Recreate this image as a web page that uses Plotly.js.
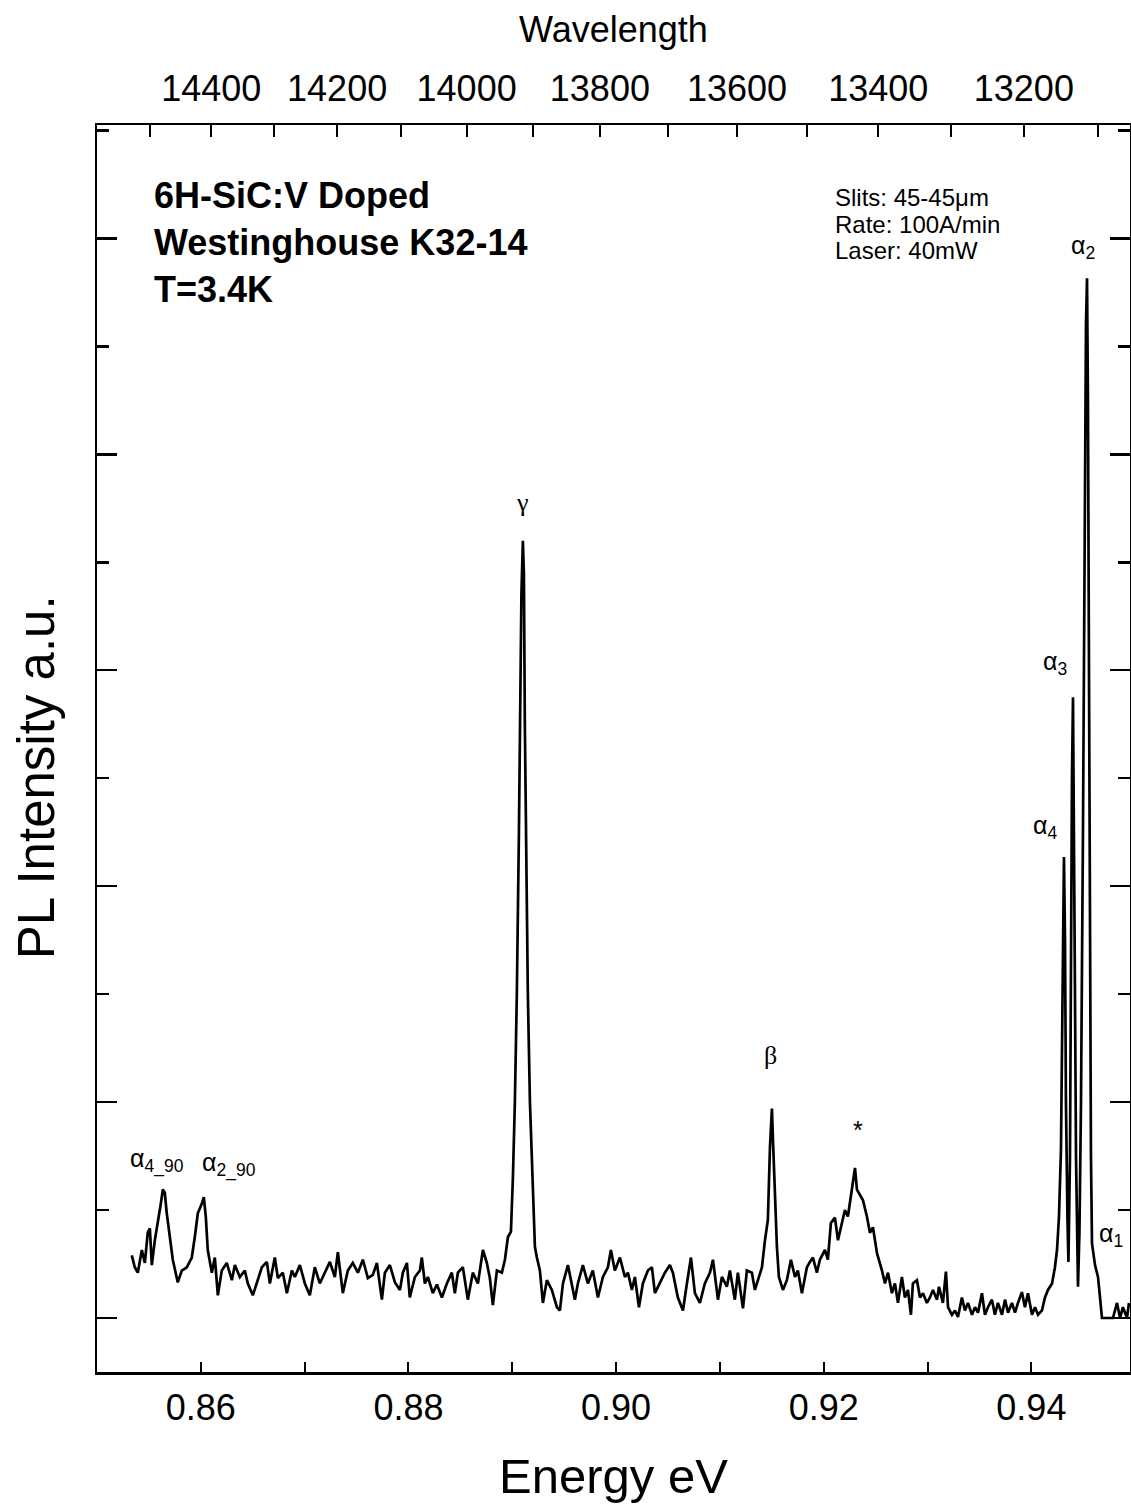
<!DOCTYPE html>
<html>
<head>
<meta charset="utf-8">
<script src="https://cdn.plot.ly/plotly-3.0.1.min.js"></script>
<style>html,body{margin:0;padding:0;background:#fff;}</style>
</head>
<body>
<div id="chart" style="width:1131px;height:1504px;"></div>
<script>
// Photon energy (eV)
const energy = [
0.85335,0.85364,0.85393,0.85432,0.85461,0.85489,0.85509,0.85528,0.85557,0.85586,
0.85615,0.85634,0.85653,0.85672,0.85701,0.85730,0.85778,0.85817,0.85865,0.85913,
0.85942,0.85971,0.86010,0.86029,0.86048,0.86067,0.86106,0.86135,0.86164,0.86202,
0.86250,0.86299,0.86328,0.86376,0.86424,0.86453,0.86501,0.86540,0.86588,0.86636,
0.86665,0.86713,0.86742,0.86790,0.86829,0.86877,0.86906,0.86954,0.87002,0.87050,
0.87098,0.87146,0.87195,0.87243,0.87291,0.87320,0.87368,0.87416,0.87464,0.87513,
0.87561,0.87609,0.87657,0.87696,0.87744,0.87773,0.87821,0.87870,0.87918,0.87946,
0.87985,0.88013,0.88062,0.88110,0.88129,0.88158,0.88187,0.88235,0.88274,0.88322,
0.88370,0.88418,0.88447,0.88476,0.88524,0.88572,0.88620,0.88669,0.88717,0.88755,
0.88784,0.88813,0.88852,0.88900,0.88929,0.88958,0.88987,0.89006,0.89025,0.89044,
0.89064,0.89078,0.89088,0.89102,0.89112,0.89121,0.89136,0.89150,0.89170,0.89189,
0.89208,0.89218,0.89237,0.89266,0.89295,0.89333,0.89381,0.89430,0.89459,0.89488,
0.89536,0.89574,0.89603,0.89632,0.89680,0.89728,0.89776,0.89825,0.89873,0.89921,
0.89950,0.89988,0.90037,0.90085,0.90114,0.90152,0.90181,0.90220,0.90258,0.90306,
0.90345,0.90374,0.90422,0.90470,0.90518,0.90547,0.90595,0.90644,0.90682,0.90721,
0.90759,0.90807,0.90855,0.90904,0.90933,0.90981,0.91019,0.91067,0.91096,0.91144,
0.91173,0.91222,0.91260,0.91308,0.91337,0.91366,0.91405,0.91434,0.91462,0.91482,
0.91501,0.91511,0.91530,0.91549,0.91568,0.91607,0.91645,0.91684,0.91723,0.91751,
0.91790,0.91838,0.91867,0.91896,0.91934,0.91963,0.92012,0.92040,0.92069,0.92108,
0.92137,0.92175,0.92204,0.92233,0.92272,0.92301,0.92320,0.92349,0.92378,0.92416,
0.92445,0.92474,0.92513,0.92561,0.92590,0.92619,0.92657,0.92686,0.92715,0.92753,
0.92782,0.92811,0.92840,0.92859,0.92898,0.92927,0.92956,0.92994,0.93023,0.93052,
0.93091,0.93110,0.93148,0.93177,0.93197,0.93235,0.93264,0.93293,0.93331,0.93360,
0.93389,0.93428,0.93457,0.93486,0.93524,0.93553,0.93582,0.93620,0.93649,0.93678,
0.93717,0.93746,0.93775,0.93813,0.93842,0.93871,0.93909,0.93938,0.93967,0.94006,
0.94035,0.94064,0.94102,0.94131,0.94160,0.94199,0.94227,0.94247,0.94266,0.94285,
0.94295,0.94304,0.94314,0.94324,0.94333,0.94348,0.94357,0.94372,0.94381,0.94391,
0.94401,0.94410,0.94420,0.94430,0.94439,0.94449,0.94463,0.94478,0.94497,0.94516,
0.94526,0.94536,0.94545,0.94555,0.94565,0.94574,0.94584,0.94613,0.94642,0.94661,
0.94680,0.94786,0.94825,0.94854,0.94882,0.94921,0.94940
];
// PL intensity (a.u.)
const intensity = [
0.58,0.47,0.42,0.63,0.51,0.79,0.83,0.49,0.72,0.88,
1.06,1.19,1.16,0.97,0.75,0.54,0.33,0.44,0.47,0.56,
0.75,0.97,1.06,1.12,0.94,0.63,0.42,0.56,0.21,0.44,
0.51,0.35,0.49,0.38,0.44,0.32,0.21,0.33,0.47,0.52,
0.32,0.56,0.37,0.42,0.23,0.44,0.38,0.49,0.32,0.21,
0.47,0.32,0.42,0.52,0.38,0.61,0.23,0.44,0.51,0.42,
0.54,0.37,0.40,0.51,0.17,0.42,0.49,0.33,0.26,0.42,
0.51,0.19,0.38,0.44,0.56,0.32,0.38,0.23,0.31,0.19,
0.32,0.42,0.23,0.42,0.47,0.17,0.42,0.32,0.63,0.51,
0.37,0.12,0.44,0.42,0.54,0.75,0.80,1.30,2.00,3.00,
4.50,5.80,6.70,7.20,6.90,5.50,4.00,3.00,2.00,1.40,
0.90,0.66,0.56,0.44,0.14,0.35,0.26,0.10,0.07,0.32,
0.49,0.32,0.17,0.32,0.49,0.32,0.44,0.19,0.38,0.47,
0.63,0.44,0.56,0.38,0.42,0.26,0.38,0.10,0.32,0.44,
0.47,0.23,0.32,0.42,0.49,0.42,0.19,0.07,0.32,0.56,
0.23,0.14,0.32,0.42,0.54,0.17,0.38,0.29,0.44,0.17,
0.42,0.09,0.44,0.42,0.26,0.35,0.47,0.72,0.91,1.58,
1.94,1.65,1.12,0.66,0.38,0.26,0.35,0.54,0.38,0.44,
0.23,0.47,0.52,0.56,0.42,0.54,0.63,0.54,0.88,0.93,
0.72,0.88,1.00,0.94,1.21,1.39,1.19,1.14,1.09,0.94,
0.79,0.84,0.60,0.44,0.32,0.42,0.23,0.32,0.14,0.38,
0.19,0.26,0.03,0.32,0.35,0.19,0.23,0.14,0.19,0.26,
0.17,0.29,0.14,0.43,0.10,0.03,0.07,0.01,0.19,0.07,
0.14,0.03,0.10,0.05,0.23,0.03,0.10,0.17,0.03,0.14,
0.03,0.17,0.05,0.14,0.05,0.14,0.24,0.10,0.23,0.03,
0.10,0.03,0.07,0.19,0.26,0.32,0.47,0.63,0.94,1.56,
2.80,3.80,4.27,3.50,2.00,0.90,0.52,1.50,3.50,5.00,
5.75,4.80,3.00,1.50,0.60,0.29,0.80,2.00,4.50,7.50,
9.20,9.63,8.50,6.00,3.00,1.50,0.69,0.49,0.38,0.21,
0.00,0.00,0.14,0.00,0.10,0.00,0.14
];
// Top axis: wavelength (Angstrom) — labelled ticks and unlabelled minor ticks
const wavelengthMajor = [14400,14200,14000,13800,13600,13400,13200];
const wavelengthMinor = [14500,14300,14100,13900,13700,13500,13300,13100];
// Peak labels
const peakNames = ['\u03b3','\u03b2','*','\u03b1<sub>2</sub>','\u03b1<sub>3</sub>','\u03b1<sub>4</sub>','\u03b1<sub>1</sub>','\u03b1<sub>4_90</sub>','\u03b1<sub>2_90</sub>'];
const peakLabelE = [0.89101,0.91489,0.92327,0.94494,0.94224,0.94128,0.94763,0.85576,0.86270];
const peakLabelI = [7.55,2.43,1.74,9.92,6.07,4.55,0.77,1.46,1.42];
const sampleInfo = ['6H-SiC:V Doped','Westinghouse K32-14','T=3.4K'];
const runInfo = ['Slits: 45-45\u03bcm','Rate: 100A/min','Laser: 40mW'];

const hcE = 12398.42; // eV*Angstrom
const xRange = [0.85, 0.9495];
const yRange = [-0.5, 11.05];

const traces = [
  {x: energy, y: intensity, type:'scatter', mode:'lines', line:{color:'#000', width:2.7}, hoverinfo:'x+y'},
  {x: energy, y: intensity, type:'scatter', mode:'lines', xaxis:'x2', line:{color:'rgba(0,0,0,0)', width:0}, hoverinfo:'skip'},
  {x: energy, y: intensity, type:'scatter', mode:'lines', xaxis:'x3', line:{color:'rgba(0,0,0,0)', width:0}, hoverinfo:'skip'}
];

const FONT = 'Liberation Sans, Arial, sans-serif';
const annotations = [];
peakNames.forEach((t,i)=>{
  const serif = (t==='\u03b3'||t==='\u03b2');
  annotations.push({x:peakLabelE[i], y:peakLabelI[i], xref:'x', yref:'y', text:t, showarrow:false,
    xanchor:'center', yanchor:'middle',
    font:{family: serif ? 'Liberation Serif, serif' : FONT, size: serif ? 26 : 25, color:'#000'}});
});
annotations.push({xref:'paper', yref:'paper', x:0.0532, y:0.9054, xanchor:'left', yanchor:'middle', align:'left',
  text: sampleInfo.map(s=>'<b>'+s+'</b>').join('<br>'), showarrow:false, font:{family:FONT, size:36, color:'#000'}});
const runY = [0.9420, 0.9206, 0.8990];
runInfo.forEach((s,i)=>{
  annotations.push({xref:'paper', yref:'paper', x:0.7125, y:runY[i], xanchor:'left', yanchor:'middle', align:'left',
    text: s, showarrow:false, font:{family:FONT, size:24, color:'#000'}});
});
annotations.push({xref:'paper', yref:'paper', x:-0.059, y:0.477, xanchor:'center', yanchor:'middle', textangle:-90,
  text:'PL Intensity a.u.', showarrow:false, font:{family:FONT, size:51, color:'#000'}});

const layout = {
  width:1131, height:1504,
  margin:{l:97, r:1, t:125, b:132},
  paper_bgcolor:'#fff', plot_bgcolor:'#fff',
  showlegend:false,
  font:{family:FONT, color:'#000'},
  xaxis:{range:xRange, tick0:0.86, dtick:0.02, tickformat:'.2f', ticks:'inside', ticklen:10, tickwidth:2, tickcolor:'#000',
    minor:{dtick:0.01, tick0:0.86, ticks:'inside', ticklen:10, tickwidth:2, tickcolor:'#000', showgrid:false},
    showline:true, linewidth:2.5, linecolor:'#000', mirror:true, showgrid:false, zeroline:false,
    tickfont:{family:FONT, size:36, color:'#000'}, ticklabelstandoff:2,
    title:{text:'Energy eV', font:{family:FONT, size:49, color:'#000'}, standoff:32}},
  xaxis2:{overlaying:'x', side:'top', anchor:'y', range:xRange, tickmode:'array',
    tickvals: wavelengthMajor.map(w=>hcE/w), ticktext: wavelengthMajor.map(String),
    ticks:'inside', ticklen:12, tickwidth:2, tickcolor:'#000', showline:false, showgrid:false, zeroline:false,
    tickfont:{family:FONT, size:36, color:'#000'}, ticklabelstandoff:16,
    title:{text:'Wavelength', font:{family:FONT, size:36, color:'#000'}, standoff:14}},
  xaxis3:{overlaying:'x', side:'top', anchor:'y', range:xRange, tickmode:'array',
    tickvals: wavelengthMinor.map(w=>hcE/w), showticklabels:false,
    ticks:'inside', ticklen:12, tickwidth:2, tickcolor:'#000', showline:false, showgrid:false, zeroline:false},
  yaxis:{range:yRange, tick0:0, dtick:2, ticks:'inside', ticklen:20, tickwidth:2.5, tickcolor:'#000',
    minor:{dtick:1, tick0:0, ticks:'inside', ticklen:12, tickwidth:2.5, tickcolor:'#000', showgrid:false},
    showticklabels:false, showline:true, linewidth:2.5, linecolor:'#000', mirror:'ticks', showgrid:false, zeroline:false},
  annotations: annotations
};

Plotly.newPlot('chart', traces, layout, {displayModeBar:false, staticPlot:true});
</script>
</body>
</html>
